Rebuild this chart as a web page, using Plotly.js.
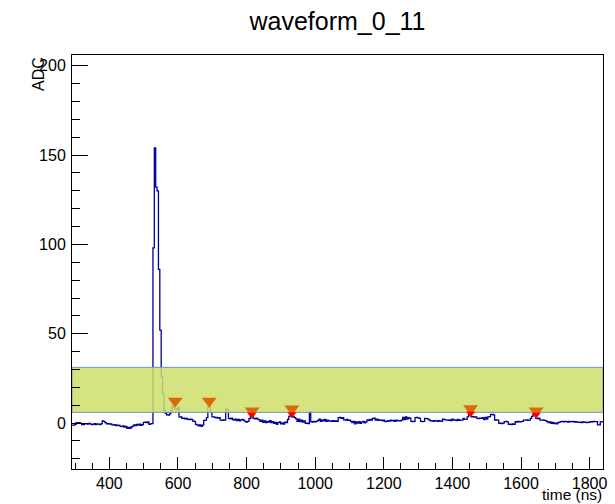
<!DOCTYPE html>
<html>
<head>
<meta charset="utf-8">
<script src="https://cdn.plot.ly/plotly-3.0.1.min.js"></script>
<style>html,body{margin:0;padding:0;background:#fff;}#chart{width:615px;height:504px;}</style>
</head>
<body>
<div id="chart"></div>
<script>
// Histogram: 387 bins of 4 ns starting at t = 291 ns
var binStart = 291;
var binWidth = 4;
var adcValues = [
 -1.2, -1.2, -0.7, 0.2, 0.0, 0.3, -0.2, -0.8, -0.8, -0.4,
 -0.3, -0.6, -0.2, -0.5, -0.9, -0.7, -0.3, -0.8, -0.4, -0.6,
 -0.9, -0.5, 1.2, 1.0, 0.2, -0.5, -0.3, -0.6, -0.4, -1.0,
 -1.2, -0.9, -1.4, -1.1, -1.3, -1.8, -2.0, -1.6, -2.3, -1.8,
 -2.9, -2.4, -3.0, -2.2, -1.7, -1.0, -1.4, -0.8, -1.2, -0.6,
 -1.3, -0.9, 0.4, 0.5, 0.2, 0.6, -0.7, -0.5, -0.3, 98,
 154, 132, 130, 86, 52, 26, 16.6, 7, 5.4, 4.6,
 4.4, 5.2, 7.0, 10.0, 9.0, 8.0, 7.5, 8.8, 3.5, 3.4,
 2.6, 2.8, 2.4, 2.6, 2.1, 1.9, 2.2, 2.0, 1.1, 0.9,
 -0.7, -1.0, -1.5, -1.0, -1.8, -1.2, 1.5, 1.7, 3.0, 9.0,
 9.5, 6.0, 3.5, 3.5, 3.0, 3.2, 2.8, 3.0, 1.7, 1.5,
 1.8, 1.6, 7.8, 7.6, 2.6, 2.4, 2.8, 2.0, 1.6, 2.2,
 1.4, 2.0, 1.2, 1.8, 2.1, 1.5, 0.8, 0.6, 1.0, 2.5,
 4.9, 4.2, 2.6, 2.4, 2.8, 2.2, 1.8, 0.9, 1.6, 0.4,
 1.2, 0.2, 1.0, 0.5, 1.4, 0.3, 0.8, -0.2, 0.4, -0.7,
 0.2, 0.6, -0.4, 0.1, -0.6, 0.5, 0.2, 2.0, 3.8, 4.6,
 3.5, 3.6, 3.0, 2.4, 1.0, 2.2, 0.8, 1.6, 0.6, 1.2,
 -0.2, 0.0, -0.3, 6.4, 0.8, 0.6, 1.0, 0.7, 0.9, 1.5,
 2.2, 1.0, 1.8, 1.2, 2.0, 0.9, 1.6, 1.1, 1.2, 1.0,
 1.4, 1.0, 1.2, 1.0, 3.0, 3.2, 2.6, 3.0, 1.8, 1.6,
 2.0, 1.5, 1.7, 0.9, 0.2, 1.0, -0.5, 0.6, 0.0, 0.8,
 -0.2, 0.5, 0.9, 0.1, 0.7, 1.8, 1.5, 2.0, 1.6, 2.6,
 2.8, 1.7, 2.2, 1.5, 1.8, 1.7, 1.2, 1.6, 0.8, 1.0,
 1.4, 1.1, 1.6, 1.2, 1.5, 1.0, 1.7, 1.3, 1.4, 1.2,
 1.6, 3.2, 2.0, 3.4, 2.2, 3.0, 2.6, 1.0, 0.8, 0.9,
 3.0, 3.2, 2.9, 2.6, 0.9, 0.8, 1.0, 2.6, 2.5, 2.4,
 1.8, 1.3, 1.2, 1.0, 1.4, 1.2, 0.9, 1.3, 1.1, 1.0,
 2.2, 2.0, 1.8, 1.7, 1.5, 1.8, 1.4, 2.2, 1.6, 1.8,
 1.4, 2.0, 1.5, 1.7, 1.6, 2.6, 2.1, 2.1, 3.5, 5.4,
 4.8, 3.5, 3.6, 3.4, 3.5, 2.6, 2.5, 2.7, 2.6, 3.0,
 2.0, 3.2, 2.2, 3.5, 3.6, 4.9, 4.8, 4.6, 1.7, 1.8,
 1.6, -0.2, -0.1, -0.3, 0.0, 0.8, 0.9, 0.7, -0.7, -0.6,
 -0.8, -0.5, -0.7, 0.8, 0.6, 0.9, 0.7, 0.8, 1.0, 1.7,
 1.6, 1.8, 1.5, 1.7, 2.6, 3.8, 4.9, 4.6, 2.6, 2.5,
 2.7, 1.7, 1.6, 1.8, 1.5, 1.4, 0.8, 0.2, 0.6, -0.2,
 0.4, -0.3, 0.0, -0.4, 0.3, 0.5, 0.8, 0.9, 0.7, 1.0,
 0.8, 0.6, 0.9, 0.7, 0.8, 0.9, 0.6, 0.8, 0.5, 0.4,
 0.5, 0.3, 0.6, 0.4, 0.5, 0.2, 0.4, 0.6, 0.8, 0.7,
 0.9, 0.8, 0.8, -1.0, -1.0, 0.7, 0.8
];

// Threshold band (ADC)
var bandLow = 6;
var bandHigh = 31.2;

// Peak markers
var orangeT = [592, 691, 816, 932, 1453, 1644];
var orangeV = [12.3, 12.3, 6.9, 8.0, 8.2, 6.9];
var redT = [815, 932, 1453, 1644];
var redV = [4.6, 5.0, 5.3, 4.6];

var xRange = [291, 1839];
var yRange = [-25.7, 206];

// Build step histogram from bin edges
var edges = [], stepY = [];
for (var k = 0; k < adcValues.length; k++) {
  edges.push(binStart + k * binWidth);
  stepY.push(adcValues[k]);
}
edges.push(binStart + adcValues.length * binWidth);
stepY.push(adcValues[adcValues.length - 1]);

var FONT = 'Liberation Sans, Arial, Helvetica, sans-serif';

var traces = [
  {
    x: edges, y: stepY, type: 'scatter', mode: 'lines',
    line: {shape: 'hv', color: '#000099', width: 1.3},
    hoverinfo: 'skip', showlegend: false
  },
  {
    x: [xRange[0], xRange[1], xRange[1], xRange[0], xRange[0]],
    y: [bandLow, bandLow, bandHigh, bandHigh, bandLow],
    type: 'scatter', mode: 'lines', fill: 'toself',
    fillcolor: 'rgba(206,224,108,0.86)',
    line: {color: '#7091cc', width: 1},
    hoverinfo: 'skip', showlegend: false
  },
  {
    x: orangeT, y: orangeV, type: 'scatter', mode: 'markers',
    marker: {symbol: 'triangle-down', size: 13, color: 'rgb(222,104,12)', line: {width: 0}},
    showlegend: false
  },
  {
    x: redT, y: redV, type: 'scatter', mode: 'markers',
    marker: {symbol: 'triangle-down', size: 8, color: '#ff0000', line: {width: 0}},
    showlegend: false
  }
];

var layout = {
  width: 615, height: 504,
  margin: {l: 72, r: 12, t: 55, b: 35, pad: 0},
  paper_bgcolor: '#ffffff', plot_bgcolor: '#ffffff',
  font: {family: FONT, size: 16, color: '#000'},
  showlegend: false,
  title: {
    text: 'waveform_0_11',
    font: {family: FONT, size: 25, color: '#000'},
    xref: 'paper', x: 0.5, xanchor: 'center',
    yref: 'container', y: 1 - 21 / 504, yanchor: 'middle'
  },
  xaxis: {
    range: xRange, showgrid: false, zeroline: false,
    showline: true, linecolor: '#000', linewidth: 1, mirror: true,
    ticks: 'inside', ticklen: 12, tickwidth: 1, tickcolor: '#000',
    tick0: 0, dtick: 200,
    minor: {dtick: 50, ticklen: 6, ticks: 'inside', tickcolor: '#000', showgrid: false},
    tickfont: {family: FONT, size: 16, color: '#000'},
    ticklabelstandoff: 0
  },
  yaxis: {
    range: yRange, showgrid: false, zeroline: false,
    showline: true, linecolor: '#000', linewidth: 1, mirror: true,
    ticks: 'inside', ticklen: 16, tickwidth: 1, tickcolor: '#000',
    tick0: 0, dtick: 50,
    minor: {dtick: 10, ticklen: 8, ticks: 'inside', tickcolor: '#000', showgrid: false},
    tickfont: {family: FONT, size: 16, color: '#000'},
    ticklabelstandoff: 2
  },
  annotations: [
    {
      text: 'ADC', textangle: -90, showarrow: false,
      xref: 'paper', x: 0, xshift: -34, xanchor: 'center',
      yref: 'paper', y: 1, yanchor: 'top',
      font: {family: FONT, size: 16, color: '#000'}
    },
    {
      text: 'time (ns)', showarrow: false, borderpad: 0,
      xref: 'paper', x: 1, xanchor: 'right', xshift: 0,
      yref: 'paper', y: 0, yshift: -35, yanchor: 'bottom',
      font: {family: FONT, size: 15.5, color: '#000'}
    }
  ]
};

Plotly.newPlot('chart', traces, layout, {displayModeBar: false, staticPlot: true});
</script>
</body>
</html>
